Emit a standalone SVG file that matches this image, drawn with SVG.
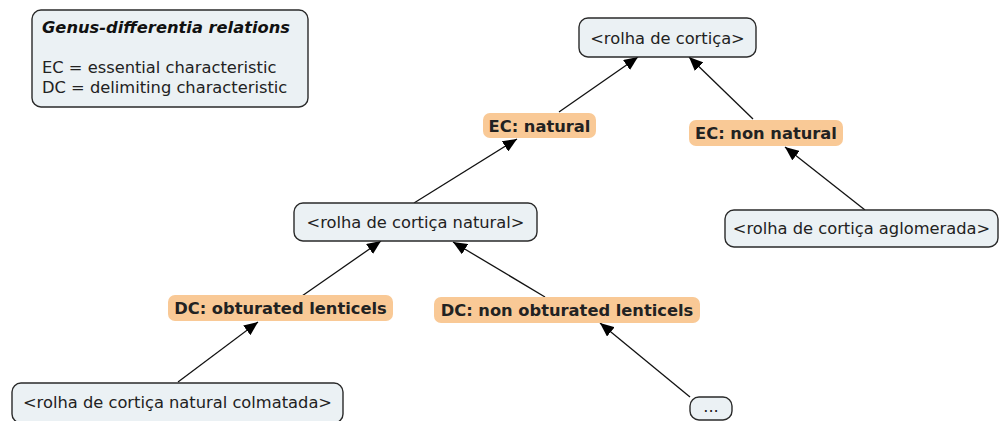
<svg xmlns="http://www.w3.org/2000/svg" width="1000" height="421" viewBox="0 0 1000 421">
<defs>
<marker id="ah" viewBox="0 0 14 12" refX="14" refY="6" markerWidth="14" markerHeight="12" markerUnits="userSpaceOnUse" orient="auto">
<path d="M0,0 L14,6 L0,12 z" fill="#000"/>
</marker>
<style>
.c{fill:#ebf1f4;stroke:#2a2a2a;stroke-width:1.4}
.l{fill:#f9c996;stroke:none}
.t{font-family:"DejaVu Sans",Verdana,sans-serif;font-size:16.3px;fill:#222;text-anchor:middle}
.b{font-weight:bold}
.g{font-family:"DejaVu Sans",Verdana,sans-serif;font-size:16.3px;fill:#222}
.e{stroke:#111;stroke-width:1.3;fill:none;marker-end:url(#ah)}
</style>
</defs>
<rect width="1000" height="421" fill="#fff"/>
<g id="legend">
<rect class="c" x="32" y="10" width="276" height="97" rx="9"/>
<text class="g" x="42" y="33" style="font-weight:bold;font-style:italic;fill:#111">Genus-differentia relations</text>
<text class="g" x="42" y="73">EC = essential characteristic</text>
<text class="g" x="42" y="93">DC = delimiting characteristic</text>
</g>
<g id="connectors">
<line class="e" x1="559" y1="112" x2="638" y2="57"/>
<line class="e" x1="753" y1="119" x2="689" y2="57"/>
<line class="e" x1="414" y1="203" x2="517" y2="139"/>
<line class="e" x1="865" y1="210" x2="785" y2="147"/>
<line class="e" x1="302" y1="296" x2="381" y2="241"/>
<line class="e" x1="545" y1="297" x2="453" y2="242"/>
<line class="e" x1="178" y1="382" x2="258" y2="322"/>
<line class="e" x1="690" y1="397" x2="600" y2="323"/>
</g>
<g id="n-rolha">
<rect class="c" x="579" y="18" width="177" height="39" rx="9"/>
<text class="t" x="667.5" y="43.5">&lt;rolha de cortiça&gt;</text>
</g>
<g id="l-ec-natural">
<rect class="l" x="483" y="113" width="113" height="25" rx="7"/>
<text class="t b" x="539.5" y="131.5">EC: natural</text>
</g>
<g id="l-ec-non-natural">
<rect class="l" x="689" y="120" width="154" height="26" rx="7"/>
<text class="t b" x="766" y="138.5">EC: non natural</text>
</g>
<g id="n-natural">
<rect class="c" x="294" y="203" width="243" height="38" rx="9"/>
<text class="t" x="415.5" y="227.5">&lt;rolha de cortiça natural&gt;</text>
</g>
<g id="n-aglomerada">
<rect class="c" x="725" y="210" width="273" height="37" rx="9"/>
<text class="t" x="861.5" y="234">&lt;rolha de cortiça aglomerada&gt;</text>
</g>
<g id="l-dc-obturated">
<rect class="l" x="168" y="295" width="225" height="26" rx="7"/>
<text class="t b" x="280.5" y="313.5">DC: obturated lenticels</text>
</g>
<g id="l-dc-non-obturated">
<rect class="l" x="434" y="297" width="266" height="26" rx="7"/>
<text class="t b" x="567" y="315.5">DC: non obturated lenticels</text>
</g>
<g id="n-colmatada">
<rect class="c" x="12" y="383" width="331" height="40" rx="9"/>
<text class="t" x="177.5" y="407.5">&lt;rolha de cortiça natural colmatada&gt;</text>
</g>
<g id="n-dots">
<rect class="c" x="690" y="397" width="42" height="23" rx="9"/>
<text class="t" x="711" y="412">...</text>
</g>
</svg>
